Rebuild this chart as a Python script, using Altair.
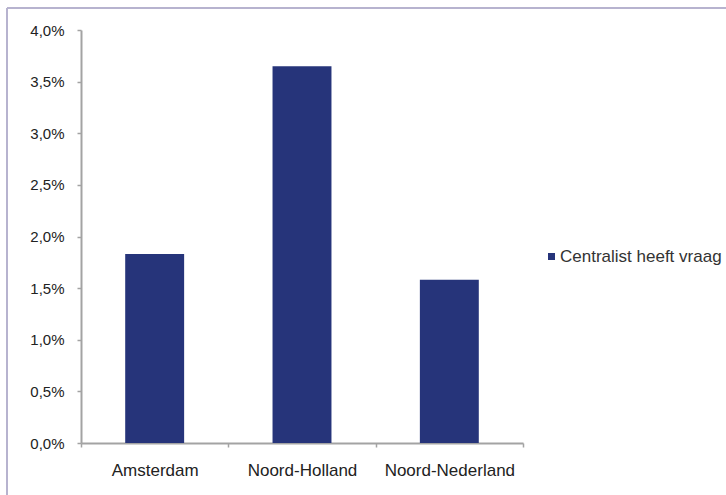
import altair as alt
import pandas as pd

regions = ["Amsterdam", "Noord-Holland", "Noord-Nederland"]
shares = [0.0183, 0.0365, 0.0158]
series = "Centralist heeft vraag"
y_ticks = [0, 0.005, 0.01, 0.015, 0.02, 0.025, 0.03, 0.035, 0.04]

df = pd.DataFrame({"regio": regions, "aandeel": shares, "reeks": [series] * len(regions)})

FONT = "Liberation Sans"
FRAME = "#b7b3cf"
AXIS = "#a3a3a3"

bars = alt.Chart(df).mark_bar(width=alt.RelativeBandSize(0.4)).encode(
    x=alt.X(
        "regio:N",
        sort=regions,
        title=None,
        scale=alt.Scale(paddingInner=0, paddingOuter=0),
        axis=alt.Axis(
            labelAngle=0, tickBand="extent", tickSize=4, domainColor=AXIS,
            tickColor=AXIS, labelPadding=15, labelFontSize=17, labelColor="#222222",
            labelFont=FONT, domainWidth=2, tickWidth=1.5, grid=False,
        ),
    ),
    y=alt.Y(
        "aandeel:Q",
        title=None,
        scale=alt.Scale(domain=[0, 0.04], nice=False),
        axis=alt.Axis(
            values=y_ticks, grid=False, tickSize=4, domainColor=AXIS, tickColor=AXIS,
            labelPadding=13, labelFontSize=15, labelColor="#222222", labelFont=FONT,
            labelExpr="replace(format(datum.value, '.1%'), '.', ',')",
            domainWidth=2, tickWidth=1.5,
        ),
    ),
    color=alt.Color(
        "reeks:N",
        scale=alt.Scale(domain=[series], range=["#26347a"]),
        legend=alt.Legend(
            title=None, orient="none", legendX=462, legendY=218,
            symbolType="square", symbolSize=49, symbolStrokeWidth=0,
            labelFontSize=17, labelFont=FONT, labelColor="#333333", labelOffset=0,
            labelLimit=300,
        ),
    ),
)

# Outer frame (top and left edges)
frame_top = alt.Chart(df).mark_rule(color=FRAME, strokeWidth=2, clip=False).encode(
    x=alt.value(-74), x2=alt.value(646), y=alt.value(-22)
)
frame_left = alt.Chart(df).mark_rule(color=FRAME, strokeWidth=2, clip=False).encode(
    x=alt.value(-74), y=alt.value(-22), y2=alt.value(470)
)

chart = (
    alt.layer(frame_top, frame_left, bars)
    .properties(
        width=442, height=413,
        autosize=alt.AutoSizeParams(type="none"),
        padding={"left": 81, "top": 30, "right": 203, "bottom": 52},
        view=alt.ViewBackground(stroke="transparent", strokeWidth=0),
    )
    .configure_view(stroke="transparent", strokeWidth=0)
    .configure_axis(grid=False)
    .configure(background="white")
)

chart.save("out.html", embed_options={"renderer": "svg", "actions": False})
